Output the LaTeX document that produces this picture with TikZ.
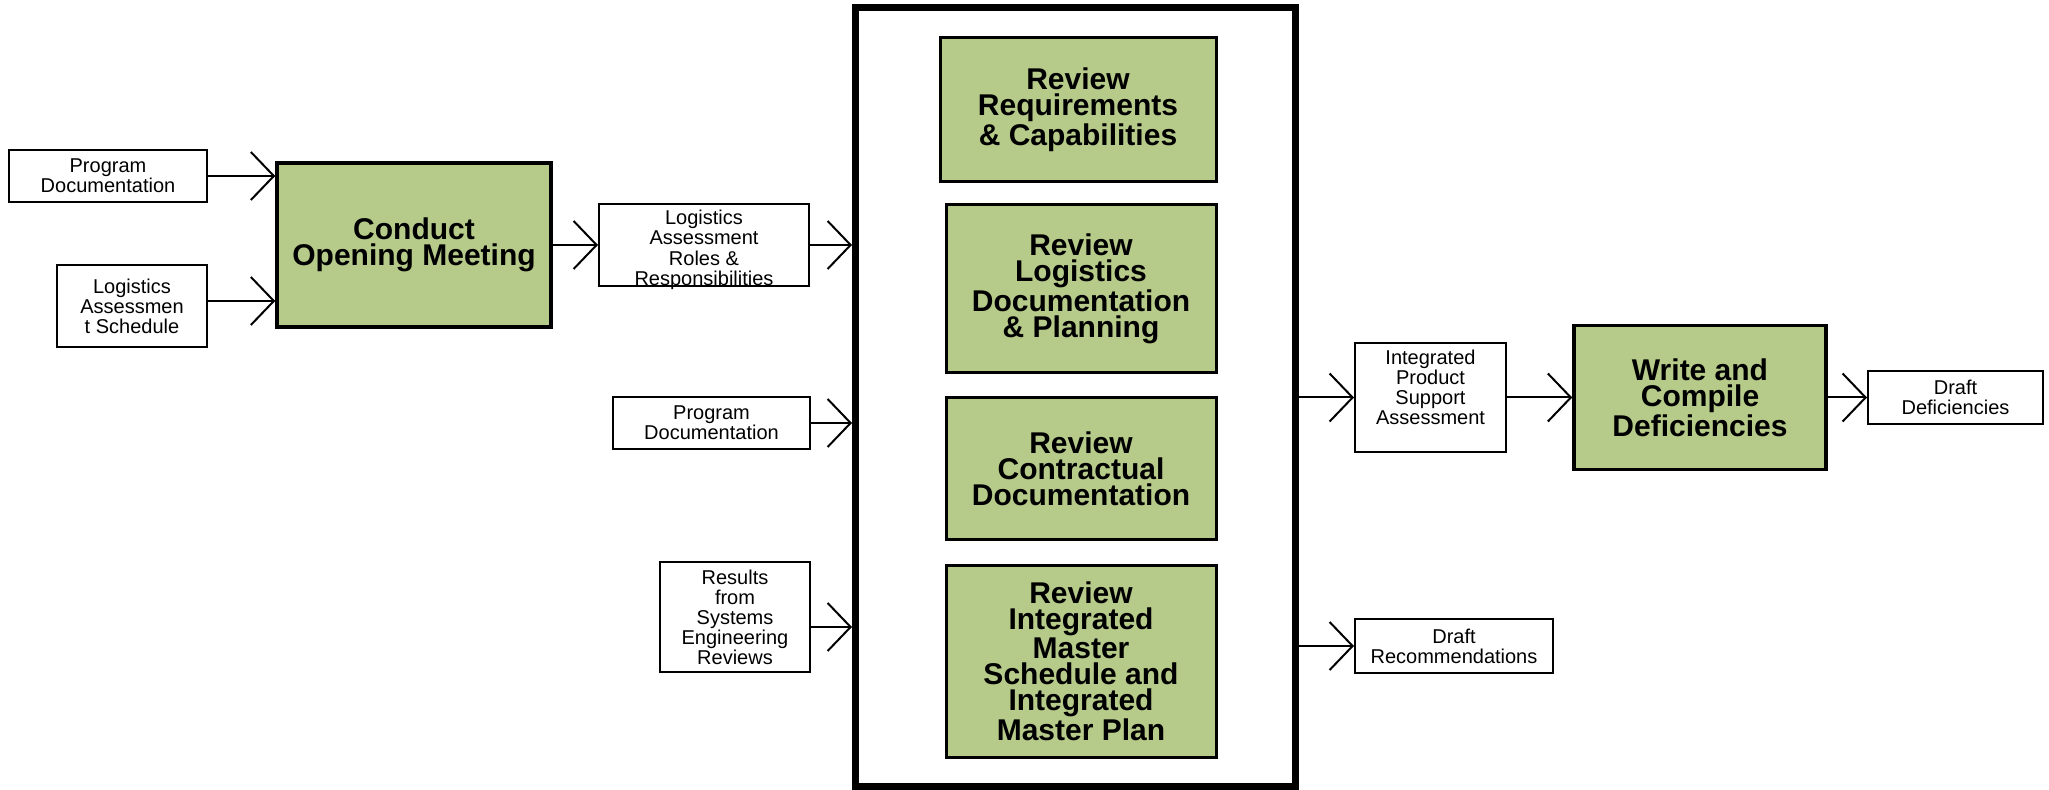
\documentclass[tikz,border=0pt]{standalone}
\usepackage{fontspec}
\setmainfont{Liberation Sans}
\usetikzlibrary{arrows.meta}
\definecolor{taskgreen}{RGB}{182,202,137}
\tikzstyle{every path}=[line width=1pt,line cap=butt,line join=miter]
\newcommand{\shifttext}[2]{\raisebox{#1}[0pt][0pt]{\begin{tabular}{@{}c@{}}#2\end{tabular}}}

\begin{document}
\begin{tikzpicture}[x=0.5pt,y=-0.5pt]
	\tikzstyle{arrow} = [-{Straight Barb[length=11.5pt,width=24pt]}]
	\tikzstyle{doc} = [draw,fill=white,align=center,inner sep=0pt,font=\fontsize{10}{10}\selectfont]
	\tikzstyle{task} = [draw,fill=taskgreen,line width=1.75pt,align=center,inner sep=0pt,font=\fontsize{15}{13}\selectfont\bfseries]
	\tikzstyle{review} = [task,line width=1.5pt,minimum width=135pt]
	
	\useasboundingbox (0,0) rectangle (2049,790);
	
	\coordinate (schedin) at (0,301);
	\coordinate (resin) at (0,627);
	
	\node[doc,minimum width=99pt,minimum height=26pt] (progdoc) at (108,176) {Program\\Documentation};
	\node[doc,minimum width=75pt,minimum height=41pt] (sched) at (132,306) {Logistics\\Assessmen\\t Schedule};
	\node[task,minimum width=137pt,minimum height=82pt] (conduct) at (414,245) {Conduct\\Opening Meeting};
	\node[doc,minimum width=105pt,minimum height=41pt] (roles) at (704,245) {\shifttext{-5.5pt}{Logistics\\Assessment\\Roles \&\\Responsibilities}};
	\node[doc,minimum width=98.5pt,minimum height=26pt] (progdocb) at (711.5,423) {Program\\Documentation};
	\node[doc,minimum width=75pt,minimum height=55pt] (results) at (735,617) {Results\\from\\Systems\\Engineering\\Reviews};
	
	\node[draw,fill=white,line width=3.5pt,minimum width=220pt,minimum height=389.5pt] (assess) at (1075.5,397) {};
	\node[review,minimum width=138pt,minimum height=72pt] (revreq) at (1078,109.5) {Review\\Requirements\\\& Capabilities};
	\node[review,minimum height=84pt] (revlog) at (1081,289) {Review\\Logistics\\Documentation\\\& Planning};
	\node[review,minimum height=71pt] (revcon) at (1081,468.5) {Review\\Contractual\\Documentation};
	\node[review,minimum height=96pt] (revims) at (1081,661.5) {Review\\Integrated\\Master\\Schedule and\\Integrated\\Master Plan};
	
	\node[doc,minimum width=75.5pt,minimum height=54.5pt] (ipsa) at (1430.5,397.5) {\shifttext{1pt}{Integrated\\Product\\Support\\Assessment}};
	\node[task,minimum width=126pt,minimum height=72pt] (write) at (1700,397.5) {Write and\\Compile\\Deficiencies};
	\node[doc,minimum width=87.5pt,minimum height=26.5pt] (draftdef) at (1955.5,397.5) {Draft\\Deficiencies};
	\node[doc,minimum width=99pt,minimum height=27pt] (draftrec) at (1454,646) {Draft\\Recommendations};
	
	\draw[arrow] (progdoc.east) -- (progdoc.east -| conduct.west);
	\draw[arrow] (sched.east |- schedin) -- (conduct.west |- schedin);
	\draw[arrow] (conduct.east) -- (roles.west);
	
	\draw[arrow] (roles.east) -- (roles.east -| assess.west);
	\draw[arrow] (progdocb.east) -- (progdocb.east -| assess.west);
	\draw[arrow] (results.east |- resin) -- (assess.west |- resin);
	
	\draw[arrow] (ipsa.west -| assess.east) -- (ipsa.west);
	\draw[arrow] (ipsa.east) -- (write.west);
	\draw[arrow] (write.east) -- (draftdef.west);
	\draw[arrow] (draftrec.west -| assess.east) -- (draftrec.west);
	
\end{tikzpicture}
\end{document}
